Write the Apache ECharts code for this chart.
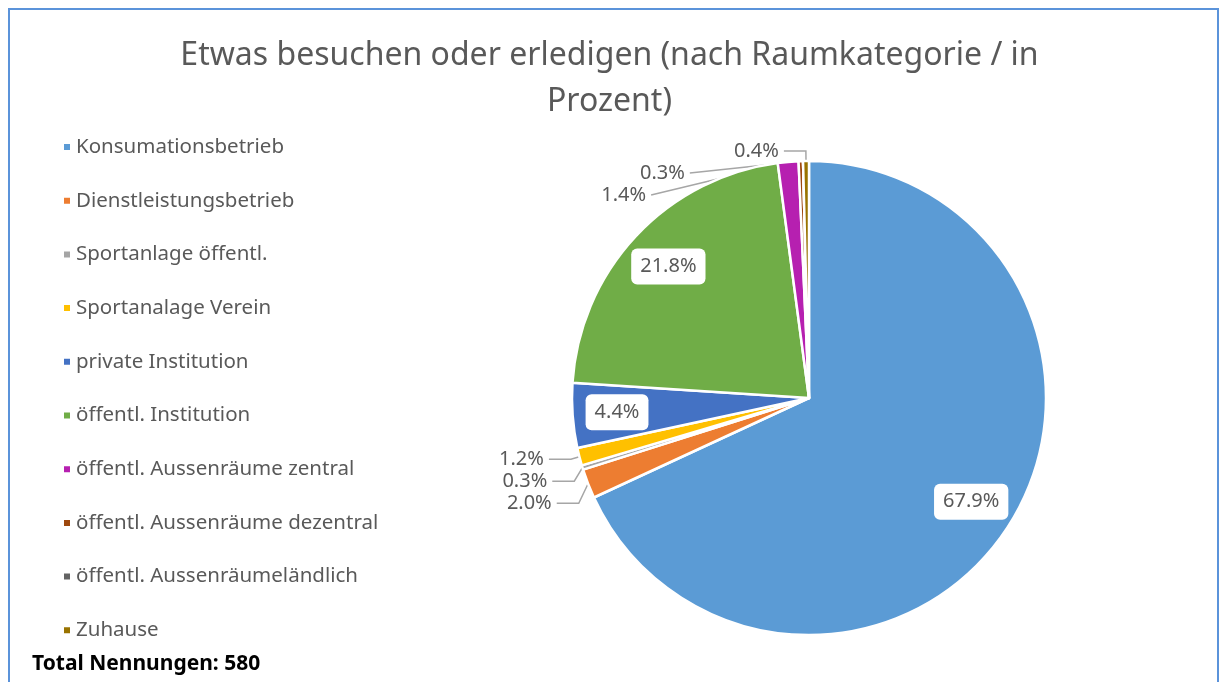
<!DOCTYPE html>
<html>
<head>
<meta charset="utf-8">
<script src="https://cdn.jsdelivr.net/npm/echarts@6/dist/echarts.min.js"></script>
<style>
* { margin: 0; padding: 0; }
body { background: #fff; }
#frame {
  position: absolute; left: 8px; top: 8px; width: 1207px; height: 700px;
  border: 2px solid #5B93DA; border-bottom: none;
}
#main { position: absolute; left: 0; top: 0; width: 1219px; height: 682px; }
</style>
</head>
<body>
<div id="frame"></div>
<div id="main"></div>
<script>
// Raumkategorien und Anteile in Prozent
const categories = [
  'Konsumationsbetrieb',
  'Dienstleistungsbetrieb',
  'Sportanlage öffentl.',
  'Sportanalage Verein',
  'private Institution',
  'öffentl. Institution',
  'öffentl. Aussenräume zentral',
  'öffentl. Aussenräume dezentral',
  'öffentl. Aussenräumeländlich',
  'Zuhause'
];
const percents = [67.9, 2.0, 0.3, 1.2, 4.4, 21.8, 1.4, 0.3, 0, 0.4];
const colors = ['#5B9BD5', '#ED7D31', '#A5A5A5', '#FFC000', '#4472C4',
                '#70AD47', '#B620B0', '#9E480E', '#636363', '#997300'];
const totalText = 'Total Nennungen: 580';

const FONT = '"Noto Sans", "Open Sans", sans-serif';
const bigLimit = 3; // ab diesem Wert Beschriftung im Segment

const charts = echarts.init(document.getElementById('main'));

const outerData = categories.map((name, i) => ({
  name: name,
  value: percents[i],
  itemStyle: { color: colors[i] },
  label: { show: percents[i] > 0 && percents[i] < bigLimit },
  labelLine: { show: percents[i] > 0 && percents[i] < bigLimit }
}));

// zweite, unsichtbare Ringserie nur für die Beschriftungen im Segment
const innerData = categories.map((name, i) => ({
  name: name,
  value: percents[i],
  label: { show: percents[i] >= bigLimit }
}));

charts.setOption({
  animation: false,
  color: colors,
  title: {
    text: 'Etwas besuchen oder erledigen (nach Raumkategorie / in\nProzent)',
    left: 'center',
    top: 28,
    textStyle: {
      fontFamily: FONT,
      fontSize: 32,
      fontWeight: 'normal',
      color: '#595959',
      lineHeight: 46
    }
  },
  legend: {
    orient: 'vertical',
    left: 62,
    top: 136,
    padding: 0,
    icon: 'rect',
    itemWidth: 8,
    itemHeight: 8,
    itemGap: 31.7,
    data: categories,
    textStyle: {
      fontFamily: FONT,
      fontSize: 20.5,
      color: '#595959',
      lineHeight: 22
    }
  },
  graphic: [{
    type: 'text',
    left: 32,
    top: 654,
    style: {
      text: totalText,
      font: 'bold 21px ' + FONT,
      fill: '#000'
    }
  }],
  series: [
    {
      name: 'Raumkategorie',
      type: 'pie',
      center: [809, 398],
      radius: 237,
      startAngle: 90,
      clockwise: true,
      avoidLabelOverlap: true,
      itemStyle: { borderColor: '#fff', borderWidth: 2.5 },
      label: {
        position: 'outside',
        formatter: p => p.value.toFixed(1) + '%',
        fontFamily: FONT,
        fontSize: 20,
        color: '#595959'
      },
      labelLine: {
        length: 10,
        length2: 22,
        lineStyle: { color: '#A6A6A6', width: 1.5 }
      },
      emphasis: { disabled: true },
      data: outerData
    },
    {
      name: 'Beschriftung',
      type: 'pie',
      center: [809, 398],
      radius: [142, 237],
      startAngle: 90,
      clockwise: true,
      silent: true,
      legendHoverLink: false,
      itemStyle: { color: 'rgba(0,0,0,0)', borderWidth: 0 },
      label: {
        position: 'inside',
        formatter: p => p.value.toFixed(1) + '%',
        fontFamily: FONT,
        fontSize: 20,
        color: '#595959',
        backgroundColor: '#fff',
        borderRadius: 6,
        padding: [8, 9]
      },
      labelLine: { show: false },
      data: innerData
    }
  ]
});
</script>
</body>
</html>
